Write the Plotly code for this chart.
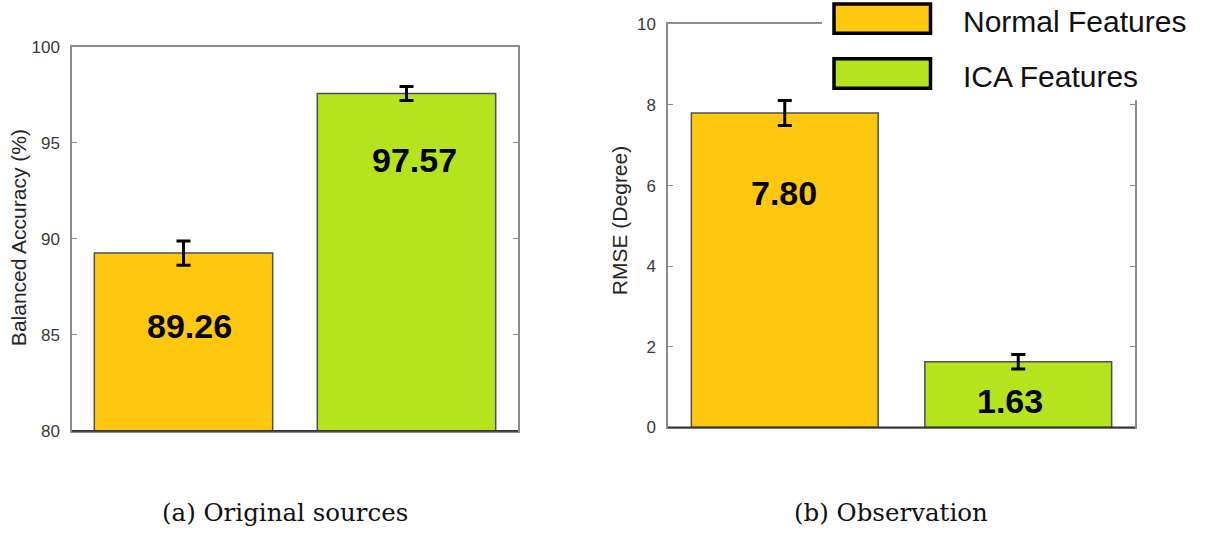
import plotly.graph_objects as go
from plotly.subplots import make_subplots

# ---- data ----
series_names = ["Normal Features", "ICA Features"]
series_colors = ["#FFC80F", "#B5E31E"]

accuracy_values = [89.26, 97.57]
accuracy_errors = [0.63, 0.36]

rmse_values = [7.80, 1.63]
rmse_errors = [0.31, 0.18]

accuracy_ticks = [80, 85, 90, 95, 100]
rmse_ticks = [0, 2, 4, 6, 8, 10]

captions = ["(a) Original sources", "(b) Observation"]

W, H = 1206, 536
# vertical screen-pixel mapping used for layout positions
Y_OFFSET, Y_SCALE = 8.6, 0.9657

fig = make_subplots(rows=1, cols=2)

positions = [1, 2]

def add_bars(values, errors, col):
    fig.add_trace(
        go.Bar(
            x=positions,
            y=values,
            width=0.8,
            marker=dict(color=series_colors, line=dict(color="#505050", width=1.5)),
            error_y=dict(type="data", array=errors, visible=True,
                         color="black", thickness=3, width=7),
            showlegend=False,
            hoverinfo="skip",
        ),
        row=1, col=col,
    )

add_bars(accuracy_values, accuracy_errors, 1)
add_bars(rmse_values, rmse_errors, 2)

frame = "#8C8C8C"
sans = "Liberation Sans, Arial"
tick_font = dict(family=sans, size=17, color="#3A3A3A")


def px_x(px):
    return px / W


def px_y(px):
    return 1 - ((px - Y_OFFSET) / Y_SCALE) / H


def vshift(px):
    return px / Y_SCALE


layout_axes = dict(
    xaxis=dict(domain=[px_x(72), px_x(518)], range=[0.5, 2.5],
               showticklabels=False, ticks="", showgrid=False, zeroline=False,
               showline=True, linecolor=frame, linewidth=1.5, mirror=True),
    yaxis=dict(domain=[px_y(431), px_y(46.5)], range=[80, 100],
               tickvals=accuracy_ticks, ticks="inside", ticklen=5, tickwidth=1,
               tickcolor=frame, showgrid=False, zeroline=False,
               showline=True, linecolor=frame, linewidth=1.5, mirror="allticks",
               tickfont=tick_font, ticklabelstandoff=7),
    xaxis2=dict(domain=[px_x(668), px_x(1135)], range=[0.5, 2.5],
                showticklabels=False, ticks="", showgrid=False, zeroline=False,
                showline=True, linecolor=frame, linewidth=1.5, mirror=True),
    yaxis2=dict(domain=[px_y(427.5), px_y(24)], range=[0, 10],
                tickvals=rmse_ticks, ticks="inside", ticklen=5, tickwidth=1,
                tickcolor=frame, showgrid=False, zeroline=False,
                showline=True, linecolor=frame, linewidth=1.5, mirror="allticks",
                tickfont=tick_font, ticklabelstandoff=7),
)

shapes = []
annotations = []

# axis titles
for x, y, text, size in ((18, 238, "Balanced Accuracy (%)", 21),
                         (619, 221, "RMSE (Degree)", 21)):
    annotations.append(dict(x=px_x(x), y=px_y(y), xref="paper", yref="paper",
                            text=text, textangle=-90, showarrow=False,
                            xanchor="center", yanchor="middle",
                            font=dict(family=sans, size=size, color="#262626")))

# dark baselines under the bars
for xr, yr in (("x", "y"), ("x2", "y2")):
    shapes.append(dict(type="line", xref=f"{xr} domain", yref=f"{yr} domain",
                       x0=0, x1=1, y0=0, y1=0,
                       line=dict(color="#333333", width=1.8), layer="above"))

# value labels inside the bars
label_font = dict(family=sans, size=34, color="black")
label_shift = {("x", 0): (6, -70), ("x", 1): (8, -64),
               ("x2", 0): (-1, -77), ("x2", 1): (-8, -38)}
for xr, yr, vals in (("x", "y", accuracy_values), ("x2", "y2", rmse_values)):
    for i, v in enumerate(vals):
        dx, dy = label_shift[(xr, i)]
        annotations.append(dict(x=positions[i], y=v, xref=xr, yref=yr,
                                text=f"<b>{v:.2f}</b>", showarrow=False,
                                xshift=dx, yshift=vshift(dy), font=label_font,
                                xanchor="center", yanchor="middle"))

# legend panel (white box sitting over the frame of the right axes)
shapes.append(dict(type="rect", xref="paper", yref="paper",
                   x0=px_x(822), x1=1.01, y0=px_y(100), y1=1.05,
                   fillcolor="white", line=dict(width=0), layer="above"))
legend_rows = [(3.5, 33), (58.5, 88)]
for (top, bottom), name, color in zip(legend_rows, series_names, series_colors):
    shapes.append(dict(type="rect", xref="paper", yref="paper",
                       x0=px_x(834), x1=px_x(930.5), y0=px_y(bottom), y1=px_y(top),
                       fillcolor=color, line=dict(color="black", width=3.5),
                       layer="above"))
    annotations.append(dict(x=px_x(961), y=px_y((top + bottom) / 2 + 3),
                            xref="paper", yref="paper", text=name, showarrow=False,
                            xanchor="left", yanchor="middle",
                            font=dict(family=sans, size=30, color="#111111")))

# sub-figure captions
for cx, text in ((285, captions[0]), (891, captions[1])):
    annotations.append(dict(x=px_x(cx), y=px_y(513), xref="paper", yref="paper",
                            text=text, showarrow=False, xanchor="center",
                            yanchor="middle",
                            font=dict(family="DejaVu Serif", size=24.5, color="#111111")))

fig.update_layout(
    width=W, height=H,
    margin=dict(l=0, r=0, t=0, b=0),
    paper_bgcolor="white", plot_bgcolor="white",
    bargap=0.2,
    shapes=shapes,
    annotations=annotations,
    showlegend=False,
    **layout_axes,
)

fig.write_html("out.html")
